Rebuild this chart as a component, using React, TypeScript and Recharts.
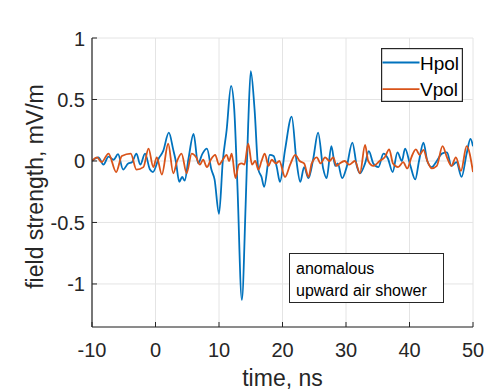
import React from 'react';
import { LineChart, Line, XAxis, YAxis, CartesianGrid, Legend, Label } from 'recharts';

// time (ns) / field strength (mV/m)
const hpolTime = [
  -10, -9.0, -8.2, -7.4, -6.6, -5.9, -5.1, -4.3, -3.7, -3.0, -2.4, -1.65, -0.87, -0.4, 0.5, 1.2, 2.1, 2.8,
  3.2, 3.75, 4.2, 4.6, 5.2, 6.0, 6.7, 7.4, 8.1, 8.8, 9.3, 10.0, 10.6, 11.2, 11.9, 12.4, 12.9, 13.6, 14.2,
  14.6, 15.0, 15.6, 16.2, 16.7, 17.1, 18.0, 18.6, 19.1, 19.6, 20.4, 21.45, 22.2, 22.8, 23.4, 24.1, 24.85,
  25.6, 26.4, 26.95, 27.7, 28.3, 28.7, 29.4, 30.1, 31.0, 31.7, 32.2, 33.0, 33.6, 34.3, 35.1, 35.9, 36.6,
  37.35, 38.1, 38.8, 39.3, 40.1, 40.9, 41.5, 42.2, 42.8, 43.5, 44.3, 45.1, 45.9, 46.6, 47.4, 48.2, 49.0,
  49.6, 50,
];
const hpolValue = [
  0.0, 0.03, -0.03, 0.035, 0.01, 0.055, -0.07, -0.02, -0.01, 0.06, -0.03, 0.06, -0.07, -0.09, 0.02, 0.08,
  0.23, 0.09, 0.0, -0.17, -0.13, -0.16, 0.02, 0.22, -0.02, 0.06, 0.1, -0.07, -0.15, -0.43, 0.0, 0.25, 0.61,
  0.42, -0.2, -1.13, -0.35, 0.3, 0.73, 0.42, -0.07, -0.13, -0.21, 0.05, 0.04, -0.05, -0.17, 0.09, 0.36, 0.0,
  -0.17, -0.05, -0.14, 0.02, 0.23, -0.06, -0.14, 0.12, -0.04, -0.02, -0.14, -0.05, 0.15, -0.04, -0.1,
  -0.02, 0.08, -0.02, -0.05, 0.06, 0.02, -0.09, 0.07, 0.0, 0.1, -0.03, -0.15, 0.0, 0.15, 0.0, -0.05, 0.0,
  0.06, 0.07, -0.04, -0.01, -0.13, 0.06, 0.18, 0.12,
];

const vpolTime = [
  -10, -9.2, -8.5, -7.4, -6.2, -5.3, -3.9, -3.0, -1.9, -1.1, -0.35, 0.2, 1.0, 2.0, 2.8, 3.4, 4.1, 4.9, 5.7,
  6.4, 7.0, 7.5, 8.1, 8.7, 9.4, 10.0, 10.6, 11.2, 11.6, 12.0, 12.6, 13.1, 13.6, 14.0, 14.6, 15.2, 15.7,
  16.2, 16.7, 17.2, 17.8, 18.3, 19.0, 19.5, 20.4, 21.2, 22.0, 22.7, 23.4, 24.1, 24.6, 25.4, 26.0, 26.7,
  27.4, 28.0, 28.5, 29.0, 29.8, 30.5, 31.4, 32.2, 33.0, 33.5, 34.3, 35.3, 36.1, 36.8, 37.4, 38.2, 39.0,
  39.65, 40.3, 41.0, 41.6, 42.2, 42.8, 43.5, 44.3, 45.2, 45.9, 46.6, 47.3, 48.1, 49.0, 50,
];
const vpolValue = [
  0.0, 0.03, -0.01, 0.06, -0.09, 0.04, 0.06, -0.07, -0.05, 0.1, -0.05, 0.03, -0.11, 0.14, -0.1, 0.0, 0.06,
  -0.1, 0.06, 0.03, -0.03, 0.01, -0.05, 0.01, 0.05, -0.03, 0.01, 0.05, 0.0, 0.06, -0.14, -0.03, -0.02,
  -0.03, 0.14, -0.03, 0.0, -0.07, 0.0, 0.06, -0.04, 0.01, -0.02, 0.0, -0.13, -0.03, 0.05, 0.0, -0.02,
  -0.13, -0.02, 0.03, -0.02, 0.03, 0.0, 0.03, -0.04, -0.02, 0.0, -0.03, 0.0, -0.1, 0.13, 0.0, -0.04, 0.0,
  0.03, 0.095, -0.02, -0.05, -0.01, -0.06, 0.03, 0.095, 0.05, 0.09, 0.0, -0.06, -0.04, 0.12, 0.03, -0.04,
  0.03, -0.08, 0.12, -0.09,
];

const xTicks = [-10, 0, 10, 20, 30, 40, 50];
const yTicks = [-1, -0.5, 0, 0.5, 1];
const seriesNames = ['Hpol', 'Vpol'];
const noteLines = ['anomalous', 'upward air shower'];

const hpolData = hpolTime.map((t, i) => ({ t, v: hpolValue[i] }));
const vpolData = vpolTime.map((t, i) => ({ t, v: vpolValue[i] }));

const FONT = '"Liberation Sans", Arial, sans-serif';
const INK = '#262626';
const BLUE = '#0072BD';
const ORANGE = '#D95319';

const BottomTick = (props: any) => {
  const { x, y, payload } = props;
  return (
    <g>
      <line x1={x} x2={x} y1={y} y2={y - 5} stroke={INK} />
      <text x={x} y={y + 30} textAnchor="middle" fill={INK} fontSize={20} fontFamily={FONT}>
        {payload.value}
      </text>
    </g>
  );
};

const TopTick = (props: any) => {
  const { x, y } = props;
  return <line x1={x} x2={x} y1={y} y2={y + 5} stroke={INK} />;
};

const LeftTick = (props: any) => {
  const { x, y, payload } = props;
  return (
    <g>
      <line x1={x} x2={x + 5} y1={y} y2={y} stroke={INK} />
      <text x={x - 7} y={y + 7.5} textAnchor="end" fill={INK} fontSize={20} fontFamily={FONT}>
        {payload.value}
      </text>
    </g>
  );
};

const RightTick = (props: any) => {
  const { x, y } = props;
  return <line x1={x} x2={x - 5} y1={y} y2={y} stroke={INK} />;
};

const LegendBox = () => (
  <svg width={82} height={54}>
    <rect x={0.6} y={0.6} width={80.8} height={52.8} fill="#fff" stroke={INK} strokeWidth={1.2} />
    {seriesNames.map((name, i) => (
      <g key={name}>
        <line x1={1.5} x2={38.5} y1={14.5 + i * 26.6} y2={14.5 + i * 26.6} stroke={i === 0 ? BLUE : ORANGE} strokeWidth={1.8} />
        <text x={39} y={14.5 + i * 26.6 + 7} fontSize={19} fill="#000" fontFamily={FONT}>
          {name}
        </text>
      </g>
    ))}
  </svg>
);

export default function App() {
  return (
    <div style={{ position: 'absolute', left: 0, top: 0, width: 489, height: 390, background: '#fff' }}>
      <LineChart width={489} height={390} margin={{ top: 38, right: 16, bottom: 0, left: 0 }}>
        <CartesianGrid xAxisId="b" yAxisId="l" stroke="#e4e4e4" strokeWidth={1} />
        <XAxis
          xAxisId="b"
          dataKey="t"
          type="number"
          domain={[-10, 50]}
          ticks={xTicks}
          allowDataOverflow
          height={63}
          tickSize={0}
          tickMargin={0}
          tickLine={false}
          axisLine={{ stroke: INK, strokeWidth: 1.2 }}
          tick={<BottomTick />}
          interval={0}
        >
          <Label
            content={({ viewBox }: any) => (
              <text
                x={viewBox.x + viewBox.width / 2}
                y={386}
                textAnchor="middle"
                fill={INK}
                fontSize={23}
                fontFamily={FONT}
              >
                time, ns
              </text>
            )}
          />
        </XAxis>
        <XAxis
          xAxisId="top"
          orientation="top"
          dataKey="t"
          type="number"
          domain={[-10, 50]}
          ticks={xTicks}
          allowDataOverflow
          height={0}
          tickSize={0}
          tickMargin={0}
          tickLine={false}
          axisLine={{ stroke: INK, strokeWidth: 1.2 }}
          tick={<TopTick />}
          interval={0}
        >
          <Label
            content={({ viewBox }: any) => (
              <text
                x={viewBox.x + viewBox.width / 2}
                y={28}
                textAnchor="middle"
                fill="#000"
                fontSize={23}
                fontWeight="bold"
                fontFamily={FONT}
              >
                15717147, -35
                <tspan fontSize={15} fontWeight="normal" dx={6} dy={-11}>°</tspan>
              </text>
            )}
          />
        </XAxis>
        <YAxis
          yAxisId="l"
          type="number"
          domain={[-1.35, 1]}
          ticks={yTicks}
          allowDataOverflow
          width={92}
          tickSize={0}
          tickMargin={0}
          tickLine={false}
          axisLine={{ stroke: INK, strokeWidth: 1.2 }}
          tick={<LeftTick />}
          interval={0}
        >
          <Label
            content={({ viewBox }: any) => {
              const cy = viewBox.y + viewBox.height / 2 + 4;
              return (
                <text
                  x={35}
                  y={cy}
                  transform={`rotate(-90, 35, ${cy})`}
                  textAnchor="middle"
                  dominantBaseline="central"
                  fill={INK}
                  fontSize={23}
                  fontFamily={FONT}
                >
                  field strength, mV/m
                </text>
              );
            }}
          />
        </YAxis>
        <YAxis
          yAxisId="r"
          orientation="right"
          type="number"
          domain={[-1.35, 1]}
          ticks={yTicks}
          allowDataOverflow
          width={0}
          tickSize={0}
          tickMargin={0}
          tickLine={false}
          axisLine={{ stroke: INK, strokeWidth: 1.2 }}
          tick={<RightTick />}
          interval={0}
        />
        <Line
          xAxisId="b"
          yAxisId="l"
          data={hpolData}
          dataKey="v"
          name="Hpol"
          type="monotone"
          stroke={BLUE}
          strokeWidth={1.8}
          dot={false}
          activeDot={false}
          isAnimationActive={false}
        />
        <Line
          xAxisId="b"
          yAxisId="l"
          data={vpolData}
          dataKey="v"
          name="Vpol"
          type="monotone"
          stroke={ORANGE}
          strokeWidth={1.8}
          dot={false}
          activeDot={false}
          isAnimationActive={false}
        />
        <Legend
          layout="vertical"
          align="center"
          verticalAlign="middle"
          content={<LegendBox />}
          wrapperStyle={{ position: 'absolute', left: 381, top: 48, width: 82, height: 54 }}
        />
      </LineChart>
      <div
        style={{
          position: 'absolute',
          left: 289,
          top: 253,
          width: 155,
          height: 50,
          border: `1px solid ${INK}`,
          background: '#fff',
          fontFamily: FONT,
          fontSize: 16,
          lineHeight: '22.4px',
          color: '#000',
          padding: '4px 0 0 6px',
          boxSizing: 'border-box',
        }}
      >
        {noteLines.map((l) => (
          <div key={l}>{l}</div>
        ))}
      </div>
    </div>
  );
}
